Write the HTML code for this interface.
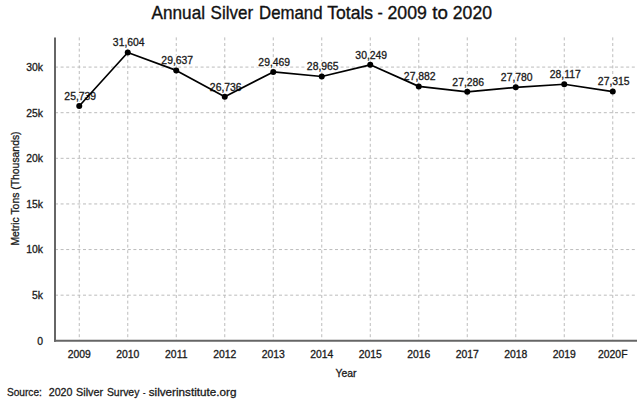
<!DOCTYPE html>
<html><head><meta charset="utf-8"><style>
html,body{margin:0;padding:0;background:#fff;width:640px;height:401px;overflow:hidden}
svg{display:block}
text{font-family:"Liberation Sans", sans-serif;}
.t{fill:#1a1a1a;stroke:#1a1a1a;stroke-width:0.3}
.h{fill:#fff;stroke:#fff;stroke-width:3;stroke-linejoin:round}
</style></head><body>
<svg width="640" height="401" viewBox="0 0 640 401">
<rect width="640" height="401" fill="#fff"/>

<line x1="55.0" y1="295.18" x2="637.0" y2="295.18" stroke="#bcbcbc" stroke-width="1" stroke-dasharray="3 2.6"/>
<line x1="55.0" y1="249.56" x2="637.0" y2="249.56" stroke="#bcbcbc" stroke-width="1" stroke-dasharray="3 2.6"/>
<line x1="55.0" y1="203.94" x2="637.0" y2="203.94" stroke="#bcbcbc" stroke-width="1" stroke-dasharray="3 2.6"/>
<line x1="55.0" y1="158.32" x2="637.0" y2="158.32" stroke="#bcbcbc" stroke-width="1" stroke-dasharray="3 2.6"/>
<line x1="55.0" y1="112.70" x2="637.0" y2="112.70" stroke="#bcbcbc" stroke-width="1" stroke-dasharray="3 2.6"/>
<line x1="55.0" y1="67.08" x2="637.0" y2="67.08" stroke="#bcbcbc" stroke-width="1" stroke-dasharray="3 2.6"/>
<line x1="79.25" y1="37.4" x2="79.25" y2="340.8" stroke="#bcbcbc" stroke-width="1" stroke-dasharray="3 2.6"/>
<line x1="127.75" y1="37.4" x2="127.75" y2="340.8" stroke="#bcbcbc" stroke-width="1" stroke-dasharray="3 2.6"/>
<line x1="176.25" y1="37.4" x2="176.25" y2="340.8" stroke="#bcbcbc" stroke-width="1" stroke-dasharray="3 2.6"/>
<line x1="224.75" y1="37.4" x2="224.75" y2="340.8" stroke="#bcbcbc" stroke-width="1" stroke-dasharray="3 2.6"/>
<line x1="273.25" y1="37.4" x2="273.25" y2="340.8" stroke="#bcbcbc" stroke-width="1" stroke-dasharray="3 2.6"/>
<line x1="321.75" y1="37.4" x2="321.75" y2="340.8" stroke="#bcbcbc" stroke-width="1" stroke-dasharray="3 2.6"/>
<line x1="370.25" y1="37.4" x2="370.25" y2="340.8" stroke="#bcbcbc" stroke-width="1" stroke-dasharray="3 2.6"/>
<line x1="418.75" y1="37.4" x2="418.75" y2="340.8" stroke="#bcbcbc" stroke-width="1" stroke-dasharray="3 2.6"/>
<line x1="467.25" y1="37.4" x2="467.25" y2="340.8" stroke="#bcbcbc" stroke-width="1" stroke-dasharray="3 2.6"/>
<line x1="515.75" y1="37.4" x2="515.75" y2="340.8" stroke="#bcbcbc" stroke-width="1" stroke-dasharray="3 2.6"/>
<line x1="564.25" y1="37.4" x2="564.25" y2="340.8" stroke="#bcbcbc" stroke-width="1" stroke-dasharray="3 2.6"/>
<line x1="612.75" y1="37.4" x2="612.75" y2="340.8" stroke="#bcbcbc" stroke-width="1" stroke-dasharray="3 2.6"/>
<line x1="55.0" y1="37.4" x2="55.0" y2="341.8" stroke="#666" stroke-width="2"/>
<line x1="54.0" y1="340.8" x2="637.0" y2="340.8" stroke="#666" stroke-width="2"/>
<text x="43" y="344.60" font-size="10.4" class="t" text-anchor="end">0</text>
<text x="43" y="298.98" font-size="10.4" class="t" text-anchor="end">5k</text>
<text x="43" y="253.36" font-size="10.4" class="t" text-anchor="end">10k</text>
<text x="43" y="207.74" font-size="10.4" class="t" text-anchor="end">15k</text>
<text x="43" y="162.12" font-size="10.4" class="t" text-anchor="end">20k</text>
<text x="43" y="116.50" font-size="10.4" class="t" text-anchor="end">25k</text>
<text x="43" y="70.88" font-size="10.4" class="t" text-anchor="end">30k</text>
<text x="79.25" y="357.5" font-size="10.4" class="t" text-anchor="middle">2009</text>
<text x="127.75" y="357.5" font-size="10.4" class="t" text-anchor="middle">2010</text>
<text x="176.25" y="357.5" font-size="10.4" class="t" text-anchor="middle">2011</text>
<text x="224.75" y="357.5" font-size="10.4" class="t" text-anchor="middle">2012</text>
<text x="273.25" y="357.5" font-size="10.4" class="t" text-anchor="middle">2013</text>
<text x="321.75" y="357.5" font-size="10.4" class="t" text-anchor="middle">2014</text>
<text x="370.25" y="357.5" font-size="10.4" class="t" text-anchor="middle">2015</text>
<text x="418.75" y="357.5" font-size="10.4" class="t" text-anchor="middle">2016</text>
<text x="467.25" y="357.5" font-size="10.4" class="t" text-anchor="middle">2017</text>
<text x="515.75" y="357.5" font-size="10.4" class="t" text-anchor="middle">2018</text>
<text x="564.25" y="357.5" font-size="10.4" class="t" text-anchor="middle">2019</text>
<text x="612.75" y="357.5" font-size="10.4" class="t" text-anchor="middle">2020F</text>
<text x="80.25" y="99.86" font-size="10.4" class="h" text-anchor="middle">25,739</text>
<text x="80.25" y="99.86" font-size="10.4" class="t" text-anchor="middle">25,739</text>
<text x="128.75" y="46.35" font-size="10.4" class="h" text-anchor="middle">31,604</text>
<text x="128.75" y="46.35" font-size="10.4" class="t" text-anchor="middle">31,604</text>
<text x="177.25" y="64.29" font-size="10.4" class="h" text-anchor="middle">29,637</text>
<text x="177.25" y="64.29" font-size="10.4" class="t" text-anchor="middle">29,637</text>
<text x="225.75" y="90.76" font-size="10.4" class="h" text-anchor="middle">26,736</text>
<text x="225.75" y="90.76" font-size="10.4" class="t" text-anchor="middle">26,736</text>
<text x="274.25" y="65.82" font-size="10.4" class="h" text-anchor="middle">29,469</text>
<text x="274.25" y="65.82" font-size="10.4" class="t" text-anchor="middle">29,469</text>
<text x="322.75" y="70.42" font-size="10.4" class="h" text-anchor="middle">28,965</text>
<text x="322.75" y="70.42" font-size="10.4" class="t" text-anchor="middle">28,965</text>
<text x="371.25" y="58.71" font-size="10.4" class="h" text-anchor="middle">30,249</text>
<text x="371.25" y="58.71" font-size="10.4" class="t" text-anchor="middle">30,249</text>
<text x="419.75" y="80.30" font-size="10.4" class="h" text-anchor="middle">27,882</text>
<text x="419.75" y="80.30" font-size="10.4" class="t" text-anchor="middle">27,882</text>
<text x="468.25" y="85.74" font-size="10.4" class="h" text-anchor="middle">27,286</text>
<text x="468.25" y="85.74" font-size="10.4" class="t" text-anchor="middle">27,286</text>
<text x="516.75" y="81.24" font-size="10.4" class="h" text-anchor="middle">27,780</text>
<text x="516.75" y="81.24" font-size="10.4" class="t" text-anchor="middle">27,780</text>
<text x="565.25" y="78.16" font-size="10.4" class="h" text-anchor="middle">28,117</text>
<text x="565.25" y="78.16" font-size="10.4" class="t" text-anchor="middle">28,117</text>
<text x="613.75" y="85.48" font-size="10.4" class="h" text-anchor="middle">27,315</text>
<text x="613.75" y="85.48" font-size="10.4" class="t" text-anchor="middle">27,315</text>
<polyline points="79.25,105.96 127.75,52.45 176.25,70.39 224.75,96.86 273.25,71.92 321.75,76.52 370.25,64.81 418.75,86.40 467.25,91.84 515.75,87.34 564.25,84.26 612.75,91.58" fill="none" stroke="#000" stroke-width="1.7" stroke-linejoin="round"/>
<circle cx="79.25" cy="105.96" r="3" fill="#000"/>
<circle cx="127.75" cy="52.45" r="3" fill="#000"/>
<circle cx="176.25" cy="70.39" r="3" fill="#000"/>
<circle cx="224.75" cy="96.86" r="3" fill="#000"/>
<circle cx="273.25" cy="71.92" r="3" fill="#000"/>
<circle cx="321.75" cy="76.52" r="3" fill="#000"/>
<circle cx="370.25" cy="64.81" r="3" fill="#000"/>
<circle cx="418.75" cy="86.40" r="3" fill="#000"/>
<circle cx="467.25" cy="91.84" r="3" fill="#000"/>
<circle cx="515.75" cy="87.34" r="3" fill="#000"/>
<circle cx="564.25" cy="84.26" r="3" fill="#000"/>
<circle cx="612.75" cy="91.58" r="3" fill="#000"/>
<text x="151.60" y="18.6" font-size="18.5" textLength="53.40" lengthAdjust="spacingAndGlyphs" fill="#111" stroke="#111" stroke-width="0.35">Annual</text>
<text x="210.60" y="18.6" font-size="18.5" textLength="42.49" lengthAdjust="spacingAndGlyphs" fill="#111" stroke="#111" stroke-width="0.35">Silver</text>
<text x="259.10" y="18.6" font-size="18.5" textLength="63.40" lengthAdjust="spacingAndGlyphs" fill="#111" stroke="#111" stroke-width="0.35">Demand</text>
<text x="327.20" y="18.6" font-size="18.5" textLength="45.91" lengthAdjust="spacingAndGlyphs" fill="#111" stroke="#111" stroke-width="0.35">Totals</text>
<text x="377.50" y="18.6" font-size="18.5" textLength="5.30" lengthAdjust="spacingAndGlyphs" fill="#111" stroke="#111" stroke-width="0.35">-</text>
<text x="387.50" y="18.6" font-size="18.5" textLength="39.39" lengthAdjust="spacingAndGlyphs" fill="#111" stroke="#111" stroke-width="0.35">2009</text>
<text x="432.20" y="18.6" font-size="18.5" textLength="15.60" lengthAdjust="spacingAndGlyphs" fill="#111" stroke="#111" stroke-width="0.35">to</text>
<text x="452.80" y="18.6" font-size="18.5" textLength="39.19" lengthAdjust="spacingAndGlyphs" fill="#111" stroke="#111" stroke-width="0.35">2020</text>
<text x="346" y="376.9" font-size="10.4" class="t" text-anchor="middle">Year</text>
<text transform="translate(19.4,188.5) rotate(-90)" x="0" y="0" font-size="10.4" class="t" text-anchor="middle">Metric Tons (Thousands)</text>
<text x="6.90" y="395.5" font-size="11.2" textLength="35.00" lengthAdjust="spacingAndGlyphs" class="t">Source:</text>
<text x="48.75" y="395.5" font-size="11.2" textLength="23.75" lengthAdjust="spacingAndGlyphs" class="t">2020</text>
<text x="76.00" y="395.5" font-size="11.2" textLength="27.09" lengthAdjust="spacingAndGlyphs" class="t">Silver</text>
<text x="106.90" y="395.5" font-size="11.2" textLength="32.50" lengthAdjust="spacingAndGlyphs" class="t">Survey</text>
<text x="143.10" y="395.5" font-size="11.2" textLength="2.50" lengthAdjust="spacingAndGlyphs" class="t">-</text>
<text x="148.75" y="395.5" font-size="11.2" textLength="87.65" lengthAdjust="spacingAndGlyphs" class="t">silverinstitute.org</text>
</svg></body></html>
